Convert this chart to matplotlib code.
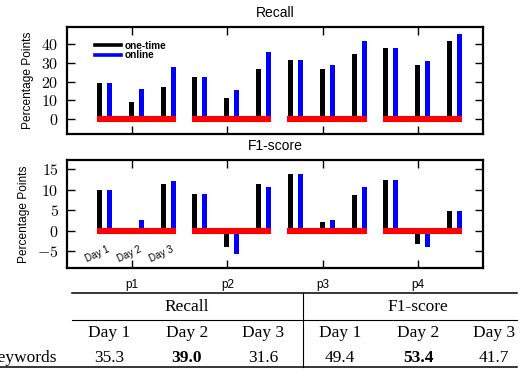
"""plot.py - per-person gains (Recall / F1-score) plus the keyword table below."""
import matplotlib

matplotlib.use("Agg")
import matplotlib.pyplot as plt
from matplotlib.lines import Line2D
from matplotlib.ticker import FuncFormatter

plt.rcParams["font.family"] = ["Liberation Sans", "DejaVu Sans"]
plt.rcParams["mathtext.fontset"] = "cm"
plt.rcParams["mathtext.rm"] = "cmr10"

PEOPLE = ["p1", "p2", "p3", "p4"]
DAYS = ["Day 1", "Day 2", "Day 3"]

# percentage points, [person][day]
recall_onetime = [[19.4, 9.0, 16.9], [22.3, 11.0, 26.7], [31.4, 26.5, 34.8], [37.8, 28.9, 41.8]]
recall_online = [[19.4, 16.1, 27.8], [22.3, 15.4, 35.7], [31.4, 29.0, 41.8], [37.8, 30.9, 45.5]]
f1_onetime = [[10.0, 0.0, 11.3], [9.0, -4.0, 11.5], [13.8, 2.2, 8.6], [12.3, -3.4, 4.9]]
f1_online = [[10.0, 2.5, 12.1], [9.0, -5.7, 10.6], [13.8, 2.7, 10.6], [12.3, -4.0, 4.9]]

recall_ticks = [0, 10, 20, 30, 40]
f1_ticks = [-5, 0, 5, 10, 15]

# table under the plots
table_metrics = ["Recall", "F1-score"]
table_row = "Keywords"
table_values = [35.3, 39.0, 31.6, 49.4, 53.4, 41.7]

W, H = 530, 374
DAY_OFF = [-0.34, -0.005, 0.33]
BLUE_OFF = 0.103
BW = 0.052


def fx(px):
    return px / W


def fy(py):
    return 1 - py / H


def panel(ax, onetime, online, ticks, ylim, title):
    for i, p in enumerate(range(1, len(PEOPLE) + 1)):
        xs = [p + d for d in DAY_OFF]
        ax.bar(xs, onetime[i], width=BW, color="black", zorder=2)
        ax.bar([x + BLUE_OFF for x in xs], online[i], width=BW, color="#0000ff", zorder=2)
        ax.hlines(0, p - 0.37, p + 0.46, color="#ff0000", lw=4.4, zorder=3, capstyle="butt")
    ax.set_xlim(0.32, 4.68)
    ax.set_ylim(*ylim)
    ax.set_xticks(range(1, len(PEOPLE) + 1))
    ax.set_yticks(ticks)
    ax.yaxis.set_major_formatter(FuncFormatter(lambda v, _: r"$\mathrm{%d}$" % v))
    ax.tick_params(direction="in", length=5.5, width=1, top=True, right=True,
                   labelsize=11.5, pad=6)
    for s in ax.spines.values():
        s.set_linewidth(1.6)
    ax.set_ylabel("Percentage Points", fontsize=8.6, labelpad=5)
    ax.set_title(title, fontsize=10, pad=7)


fig = plt.figure(figsize=(W / 100, H / 100), dpi=100)
ax1 = fig.add_axes([fx(67), fy(134), fx(416), 107 / H])
ax2 = fig.add_axes([fx(67), fy(268), fx(416), 108 / H])

panel(ax1, recall_onetime, recall_online, recall_ticks, (-8.2, 49.3), "Recall")
panel(ax2, f1_onetime, f1_online, f1_ticks, (-9.2, 17.3), "F1-score")
ax1.set_xticklabels([])
ax2.set_xticklabels(PEOPLE, fontsize=8.5)
ax2.tick_params(axis="x", pad=8)

handles = [Line2D([], [], color="black", lw=2.6), Line2D([], [], color="#0000ff", lw=2.6)]
ax1.legend(handles, ["one-time", "online"], loc="upper left", bbox_to_anchor=(0.055, 0.92),
           frameon=False, handlelength=2.6, handletextpad=0.4, labelspacing=-0.05,
           borderpad=0, prop={"size": 7.2, "weight": "bold"})

for d, lab in zip(DAY_OFF, DAYS):
    ax2.text(1 + d - 0.02, -5.8, lab, rotation=25, ha="center", va="center", fontsize=7)

# table
serif = ["Liberation Serif", "DejaVu Serif"]
fig.add_artist(Line2D([fx(72), fx(517)], [fy(293), fy(293)], color="black", lw=1.1))
fig.add_artist(Line2D([fx(72), fx(517)], [fy(320), fy(320)], color="black", lw=0.8))
fig.add_artist(Line2D([fx(0), fx(517)], [fy(367), fy(367)], color="black", lw=1.1))
fig.add_artist(Line2D([fx(302.5), fx(302.5)], [fy(293), fy(367)], color="black", lw=0.8))

col_x = [109, 187, 263, 340, 418, 494]
for k, m in enumerate(table_metrics):
    fig.text(fx(sum(col_x[3 * k:3 * k + 3]) / 3), fy(307), m, ha="center", va="center",
             family=serif, fontsize=12.5)
    vals = table_values[3 * k:3 * k + 3]
    for j, v in enumerate(vals):
        x = fx(col_x[3 * k + j])
        fig.text(x, fy(333), DAYS[j], ha="center", va="center", family=serif, fontsize=12.5)
        fig.text(x, fy(358), f"{v:.1f}", ha="center", va="center", family=serif, fontsize=12.5,
                 weight="bold" if v == max(vals) else "normal")
# the row label runs off the left edge, as in the original crop
fig.text(fx(57), fy(358), table_row, ha="right", va="center", family=serif, fontsize=12.5)

fig.savefig("out.png", dpi=100)
plt.close(fig)
